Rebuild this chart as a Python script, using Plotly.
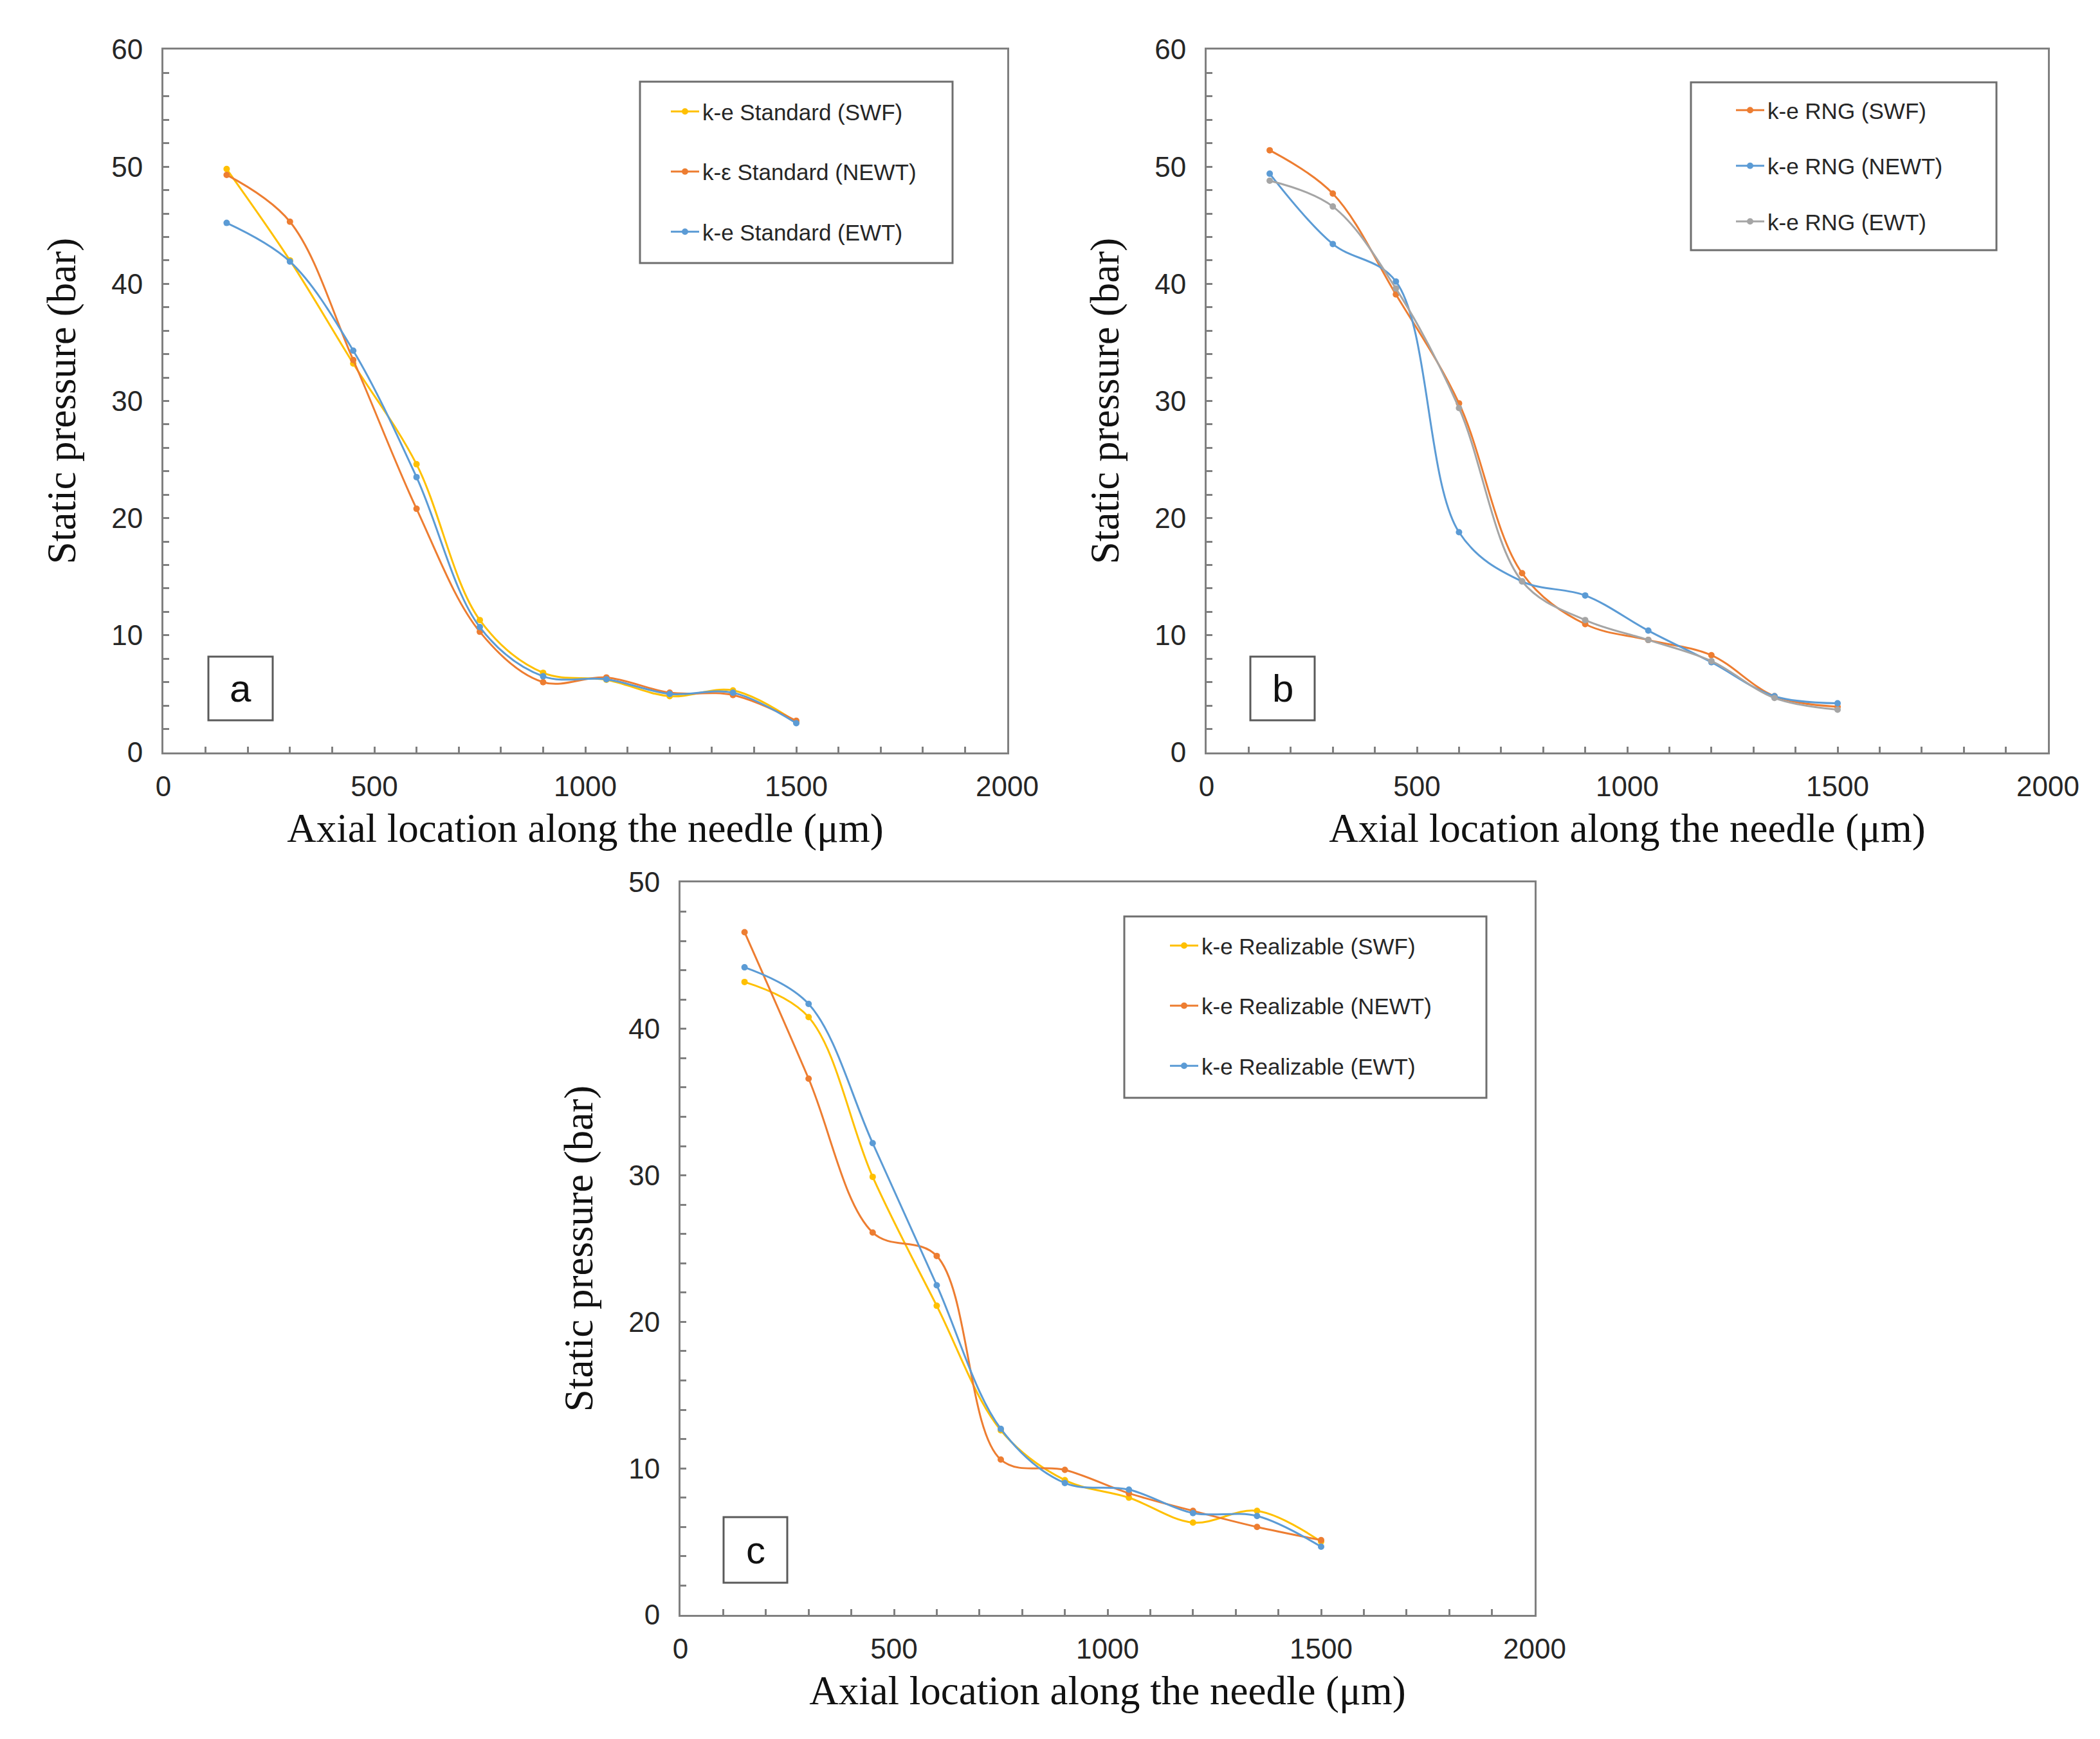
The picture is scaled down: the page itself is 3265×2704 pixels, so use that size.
import plotly.graph_objects as go

W, H = 3265, 2704

x_um = [150, 300, 450, 600, 750, 900, 1050, 1200, 1350, 1500]

a_swf = [49.8, 42.0, 33.2, 24.6, 11.3, 6.8, 6.2, 4.8, 5.3, 2.6]
a_newt = [49.3, 45.3, 33.5, 20.8, 10.3, 6.0, 6.4, 5.1, 4.9, 2.7]
a_ewt = [45.2, 41.9, 34.3, 23.5, 10.7, 6.5, 6.25, 5.0, 5.1, 2.5]

b_swf = [51.4, 47.7, 39.1, 29.8, 15.3, 10.95, 9.6, 8.3, 4.8, 3.9]
b_newt = [49.4, 43.4, 40.2, 18.8, 14.6, 13.4, 10.4, 7.7, 4.8, 4.2]
b_ewt = [48.8, 46.6, 39.6, 29.4, 14.6, 11.3, 9.6, 7.8, 4.65, 3.65]

c_swf = [43.2, 40.8, 29.9, 21.1, 12.6, 9.2, 8.0, 6.3, 7.1, 5.0]
c_newt = [46.6, 36.6, 26.1, 24.5, 10.6, 9.9, 8.3, 7.1, 6.0, 5.1]
c_ewt = [44.2, 41.7, 32.2, 22.5, 12.7, 9.0, 8.55, 6.95, 6.75, 4.65]

names_a = ["k-e Standard (SWF)", "k-ε Standard (NEWT)", "k-e Standard (EWT)"]
names_b = ["k-e RNG (SWF)", "k-e RNG (NEWT)", "k-e RNG (EWT)"]
names_c = ["k-e Realizable (SWF)", "k-e Realizable (NEWT)", "k-e Realizable (EWT)"]
panel_labels = ["a", "b", "c"]

YELLOW, ORANGE, BLUE, GRAY = "#FFC000", "#ED7D31", "#5B9BD5", "#A5A5A5"
colors_a = [YELLOW, ORANGE, BLUE]
colors_b = [ORANGE, BLUE, GRAY]
colors_c = [YELLOW, ORANGE, BLUE]

def px_x(p):
    return p / W

def px_y(p):
    return 1 - p / H

fig = go.Figure()

panels = [
    ("x", "y", "legend", [a_swf, a_newt, a_ewt], names_a, colors_a),
    ("x2", "y2", "legend2", [b_swf, b_newt, b_ewt], names_b, colors_b),
    ("x3", "y3", "legend3", [c_swf, c_newt, c_ewt], names_c, colors_c),
]
for xa, ya, lg, series, names, cols in panels:
    for i, (ys, nm, cl) in enumerate(zip(series, names, cols)):
        fig.add_trace(go.Scatter(
            x=x_um, y=ys, name=nm, xaxis=xa, yaxis=ya, legend=lg,
            legendgroup=lg + str(i),
            mode="lines+markers", line=dict(color=cl, width=3, shape="spline", smoothing=1.0),
            marker=dict(color=cl, size=10),
        ))

AX_COLOR = "#808080"
TICK_FONT = dict(family="Liberation Sans, Arial, sans-serif", size=44, color="#262626")
TITLE_FONT = dict(family="Liberation Serif, Times New Roman, serif", size=63, color="#111111")

def xaxis(domain, anchor):
    return dict(
        domain=domain, anchor=anchor, range=[0, 2000], tick0=0, dtick=500,
        showline=True, linecolor=AX_COLOR, linewidth=3, mirror=True,
        ticks="inside", ticklen=9, tickwidth=3, tickcolor=AX_COLOR,
        minor=dict(dtick=100, ticks="inside", ticklen=9, tickwidth=3, tickcolor=AX_COLOR, showgrid=False),
        showgrid=False, zeroline=False, automargin=False,
        tickfont=TICK_FONT, ticklabelstandoff=12,
        title=dict(text="Axial location along the needle (μm)", font=TITLE_FONT, standoff=20),
    )

def yaxis(domain, anchor, top):
    return dict(
        domain=domain, anchor=anchor, range=[0, top], tick0=0, dtick=10,
        showline=True, linecolor=AX_COLOR, linewidth=3, mirror=True,
        ticks="inside", ticklen=9, tickwidth=3, tickcolor=AX_COLOR,
        minor=dict(dtick=2, ticks="inside", ticklen=9, tickwidth=3, tickcolor=AX_COLOR, showgrid=False),
        showgrid=False, zeroline=False, automargin=False,
        tickfont=TICK_FONT, ticklabelstandoff=20,
        title=dict(text="Static pressure (bar)", font=TITLE_FONT, standoff=36),
    )

fig.update_layout(
    width=W, height=H, margin=dict(l=0, r=0, t=0, b=0),
    paper_bgcolor="white", plot_bgcolor="white",
    xaxis=xaxis([px_x(254), px_x(1566)], "y"),
    yaxis=yaxis([px_y(1170), px_y(77)], "x", 60),
    xaxis2=xaxis([px_x(1876), px_x(3184)], "y2"),
    yaxis2=yaxis([px_y(1170), px_y(77)], "x2", 60),
    xaxis3=xaxis([px_x(1058), px_x(2386)], "y3"),
    yaxis3=yaxis([px_y(2511), px_y(1372)], "x3", 50),
)

LEG_FONT = dict(family="Liberation Sans, Arial, sans-serif", size=35, color="#262626")
leg_common = dict(bgcolor="rgba(0,0,0,0)", borderwidth=0, font=LEG_FONT,
                  itemwidth=44, xanchor="left", yanchor="top")
fig.update_layout(
    legend=dict(x=px_x(1038), y=px_y(144), tracegroupgap=45, **leg_common),
    legend2=dict(x=px_x(2694), y=px_y(142), tracegroupgap=38, **leg_common),
    legend3=dict(x=px_x(1814), y=px_y(1441), tracegroupgap=45, **leg_common),
)

# legend frames
for (x0, y0, x1, y1) in [(995, 127, 1481, 409), (2629, 128, 3104, 389), (1748, 1425, 2311, 1707)]:
    fig.add_shape(type="rect", xref="paper", yref="paper",
                  x0=px_x(x0), x1=px_x(x1), y0=px_y(y1), y1=px_y(y0),
                  line=dict(color="#6e6e6e", width=3), fillcolor="rgba(0,0,0,0)")

# panel label boxes
for lab, (x0, y0, x1, y1) in zip(panel_labels, [(324, 1021, 424, 1120), (1944, 1021, 2044, 1120), (1125, 2359, 1224, 2461)]):
    fig.add_shape(type="rect", xref="paper", yref="paper",
                  x0=px_x(x0), x1=px_x(x1), y0=px_y(y1), y1=px_y(y0),
                  line=dict(color="#5a5a5a", width=3), fillcolor="white")
    fig.add_annotation(xref="paper", yref="paper", x=px_x((x0 + x1) / 2), y=px_y((y0 + y1) / 2),
                       text=lab, showarrow=False, xanchor="center", yanchor="middle",
                       font=dict(family="Liberation Sans, Arial, sans-serif", size=60, color="#111111"))

fig.write_html("out.html")
